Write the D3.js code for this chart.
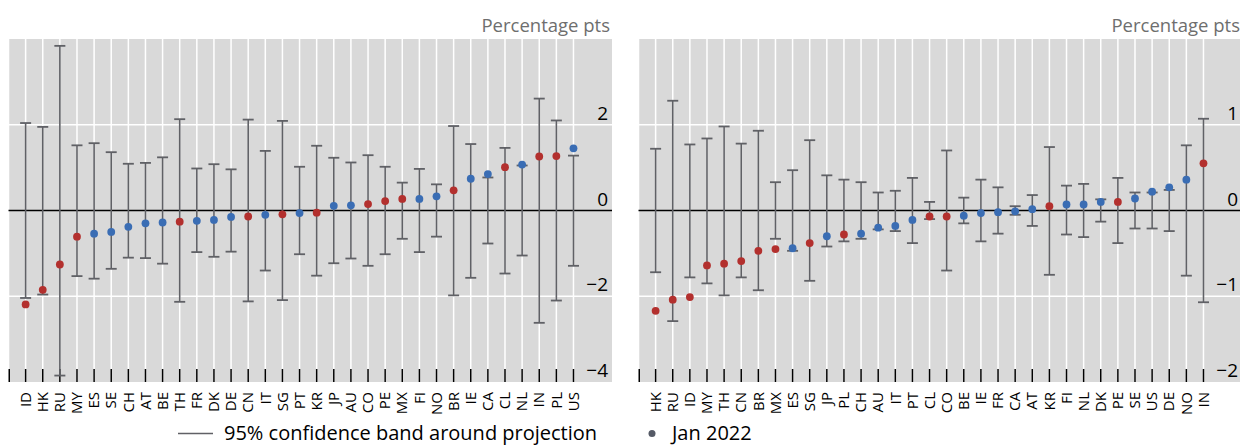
<!DOCTYPE html>
<html>
<head>
<meta charset="utf-8">
<script src="https://cdn.jsdelivr.net/npm/d3@7"></script>
<style>
  html, body { margin: 0; padding: 0; background: #fff; }
  svg { display: block; font-family: "Open Sans", "Noto Sans", sans-serif; }
</style>
</head>
<body>
<svg id="chart" width="1240" height="445"></svg>
<script>
// ---------- Data ----------
// Left panel
const leftCountries = ["ID","HK","RU","MY","ES","SE","CH","AT","BE","TH","FR","DK","DE","CN","IT","SG","PT","KR","JP","AU","CO","PE","MX","FI","NO","BR","IE","CA","CL","NL","IN","PL","US"];
const leftValues    = [-2.19,-1.85,-1.26,-0.61,-0.54,-0.50,-0.38,-0.30,-0.28,-0.26,-0.24,-0.22,-0.15,-0.14,-0.10,-0.09,-0.06,-0.05,0.11,0.12,0.15,0.22,0.27,0.27,0.33,0.47,0.74,0.85,1.01,1.07,1.26,1.27,1.45];
const leftUpper     = [2.04,1.95,3.84,1.52,1.57,1.36,1.09,1.11,1.24,2.13,0.98,1.08,0.96,2.12,1.39,2.09,1.02,1.51,1.23,1.12,1.29,1.02,0.65,0.97,0.61,1.97,1.55,0.77,1.46,1.05,2.61,2.10,1.28];
const leftLower     = [-2.04,-1.96,-3.85,-1.53,-1.59,-1.36,-1.10,-1.11,-1.24,-2.13,-0.97,-1.08,-0.96,-2.12,-1.40,-2.09,-1.02,-1.52,-1.23,-1.12,-1.29,-1.02,-0.66,-0.97,-0.61,-1.98,-1.57,-0.77,-1.47,-1.05,-2.62,-2.10,-1.29];
const leftGroup     = ["EM","EM","EM","EM","AE","AE","AE","AE","AE","EM","AE","AE","AE","EM","AE","EM","AE","EM","AE","AE","EM","EM","EM","AE","AE","EM","AE","AE","EM","AE","EM","EM","AE"];
const leftTicks     = [-4,-2,0,2];

// Right panel
const rightCountries = ["HK","RU","ID","MY","TH","CN","BR","MX","ES","SG","JP","PL","CH","AU","IT","PT","CL","CO","BE","IE","FR","CA","AT","KR","FI","NL","DK","PE","SE","US","DE","NO","IN"];
const rightValues    = [-1.17,-1.04,-1.01,-0.64,-0.62,-0.59,-0.47,-0.45,-0.44,-0.38,-0.30,-0.28,-0.27,-0.20,-0.18,-0.11,-0.07,-0.07,-0.06,-0.03,-0.02,-0.01,0.015,0.05,0.07,0.07,0.10,0.10,0.14,0.22,0.27,0.36,0.55];
const rightUpper     = [0.72,1.28,0.77,0.84,0.98,0.78,0.93,0.33,0.47,0.82,0.41,0.36,0.33,0.21,0.23,0.38,0.10,0.70,0.15,0.36,0.27,0.05,0.18,0.74,0.29,0.31,0.13,0.38,0.21,0.21,0.24,0.76,1.07];
const rightLower     = [-0.72,-1.29,-0.78,-0.85,-0.99,-0.78,-0.93,-0.33,-0.47,-0.82,-0.42,-0.36,-0.33,-0.22,-0.24,-0.38,-0.10,-0.70,-0.15,-0.36,-0.27,-0.05,-0.18,-0.75,-0.28,-0.31,-0.13,-0.38,-0.21,-0.21,-0.24,-0.76,-1.07];
const rightGroup     = ["EM","EM","EM","EM","EM","EM","EM","EM","AE","EM","AE","EM","AE","AE","AE","AE","EM","EM","AE","AE","AE","AE","AE","EM","AE","AE","AE","EM","AE","AE","AE","AE","EM"];
const rightTicks     = [-2,-1,0,1];

const unitLabel = "Percentage pts";
const legendBand = "95% confidence band around projection";
const legendDot = "Jan 2022";

// ---------- Styles ----------
const colors = { EM: "#b3302e", AE: "#3a6db4" };
const barColor = "#606166";
const bgColor = "#d9d9d9";

const svg = d3.select("#chart");

function drawPanel(cfg) {
  const top = 39, bottom = 382;
  const x = d3.scaleLinear().domain([-1, 34.25]).range([cfg.x0, cfg.x0 + 603.5]);
  const y = d3.scaleLinear().domain(cfg.domain).range([bottom, top]);
  const g = svg.append("g");
  const n = cfg.countries.length;
  const idx = d3.range(n);

  // background
  g.append("rect").attr("x", x(-1)).attr("y", top)
    .attr("width", x(34.25) - x(-1)).attr("height", bottom - top)
    .attr("fill", bgColor);

  // vertical gridlines
  g.selectAll(".vg").data([-1].concat(idx)).enter().append("line")
    .attr("x1", d => x(d)).attr("x2", d => x(d))
    .attr("y1", top).attr("y2", bottom)
    .attr("stroke", "#fff").attr("stroke-width", 1.5);

  // horizontal gridlines
  g.selectAll(".hg").data(cfg.ticks.filter(t => t !== 0 && t !== cfg.domain[0])).enter().append("line")
    .attr("x1", x(-1)).attr("x2", x(34.25))
    .attr("y1", d => y(d)).attr("y2", d => y(d))
    .attr("stroke", "#fff").attr("stroke-width", 1.5);

  // zero line
  g.append("line").attr("x1", x(-1)).attr("x2", x(34.25))
    .attr("y1", y(0)).attr("y2", y(0))
    .attr("stroke", "#000").attr("stroke-width", 1.6);

  // bottom ticks
  g.selectAll(".bt").data([-1].concat(idx)).enter().append("line")
    .attr("x1", d => x(d) + (d === -1 ? 0.75 : 0)).attr("x2", d => x(d) + (d === -1 ? 0.75 : 0))
    .attr("y1", bottom - 13).attr("y2", bottom)
    .attr("stroke", "#000").attr("stroke-width", 1.5);

  // y tick labels (inside right)
  g.selectAll(".yl").data(cfg.ticks).enter().append("text")
    .attr("x", x(34.25) - 4).attr("y", d => y(d) - 5)
    .attr("text-anchor", "end").attr("font-size", 19).attr("fill", "#000")
    .text(d => d < 0 ? "\u2212" + Math.abs(d) : String(d));

  // unit label
  g.append("text").attr("x", x(34.25) - 2).attr("y", 32)
    .attr("text-anchor", "end").attr("font-size", 18.5).attr("fill", "#6e6e6e")
    .text(unitLabel);

  // error bars
  g.selectAll(".eb").data(idx).enter().append("line")
    .attr("x1", i => x(i)).attr("x2", i => x(i))
    .attr("y1", i => y(cfg.upper[i])).attr("y2", i => y(cfg.lower[i]))
    .attr("stroke", barColor).attr("stroke-width", 1.6);
  ["upper", "lower"].forEach(k => {
    g.selectAll(".cap" + k).data(idx).enter().append("line")
      .attr("x1", i => x(i) - 5.5).attr("x2", i => x(i) + 5.5)
      .attr("y1", i => y(cfg[k][i])).attr("y2", i => y(cfg[k][i]))
      .attr("stroke", barColor).attr("stroke-width", 1.8);
  });

  // dots
  g.selectAll(".dot").data(idx).enter().append("circle")
    .attr("cx", i => x(i)).attr("cy", i => y(cfg.values[i]))
    .attr("r", 3.9).attr("fill", i => colors[cfg.group[i]]);

  // x labels
  g.selectAll(".xl").data(idx).enter().append("text")
    .attr("transform", i => `translate(${x(i) + 5.2},392) rotate(-90)`)
    .attr("text-anchor", "end").attr("font-size", 15).attr("fill", "#000")
    .text(i => cfg.countries[i]);
}

drawPanel({ x0: 8.5, domain: [-4, 4], ticks: leftTicks, countries: leftCountries,
  values: leftValues, upper: leftUpper, lower: leftLower, group: leftGroup });
drawPanel({ x0: 638.5, domain: [-2, 2], ticks: rightTicks, countries: rightCountries,
  values: rightValues, upper: rightUpper, lower: rightLower, group: rightGroup });

// legend
const lg = svg.append("g");
lg.append("line").attr("x1", 178).attr("x2", 213).attr("y1", 433.5).attr("y2", 433.5)
  .attr("stroke", barColor).attr("stroke-width", 1.5);
lg.append("text").attr("x", 224).attr("y", 440).attr("font-size", 20).attr("fill", "#000").text(legendBand);
lg.append("circle").attr("cx", 652).attr("cy", 433.5).attr("r", 3.5).attr("fill", "#555a66");
lg.append("text").attr("x", 672).attr("y", 440).attr("font-size", 20).attr("fill", "#000").text(legendDot);
</script>
</body>
</html>
